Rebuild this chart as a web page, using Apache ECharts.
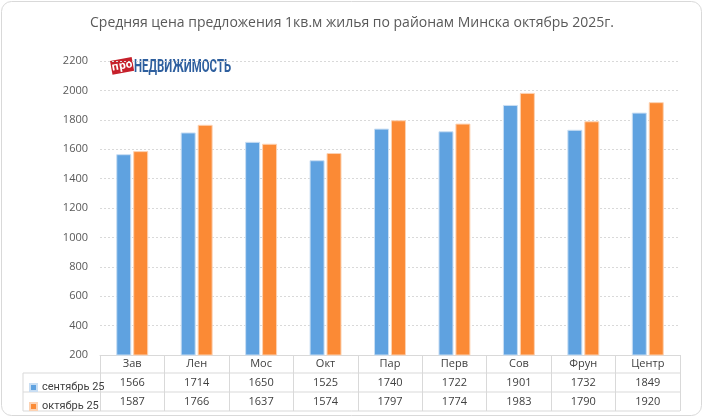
<!DOCTYPE html>
<html>
<head>
<meta charset="utf-8">
<script src="https://cdn.jsdelivr.net/npm/echarts@6/dist/echarts.min.js"></script>
<style>
  html, body { margin: 0; padding: 0; background: #fff; }
  #chart { width: 704px; height: 418px; }
</style>
</head>
<body>
<div id="chart"></div>
<script>
const categories = ['Зав', 'Лен', 'Мос', 'Окт', 'Пар', 'Перв', 'Сов', 'Фрун', 'Центр'];
const septValues = [1566, 1714, 1650, 1525, 1740, 1722, 1901, 1732, 1849];
const octValues = [1587, 1766, 1637, 1574, 1797, 1774, 1983, 1790, 1920];
const seriesNames = ['сентябрь 25', 'октябрь 25'];
const yMin = 200, yMax = 2200, yStep = 200;

const FONT = '"Open Sans", "DejaVu Sans", sans-serif';
const GRID_L = 100, GRID_R = 680, GRID_T = 61, GRID_B = 355;
const TABLE_L = 23;
const ROWS = [373, 392, 411];
const LINE = '#d9d9d9';

const initChart = function () {
  const myChart = echarts.init(document.getElementById('chart'));

  const tableLines = ROWS.map(function (y) {
    return {
      type: 'line',
      shape: { x1: TABLE_L, y1: y, x2: GRID_R, y2: y },
      style: { stroke: LINE, lineWidth: 1 }
    };
  });
  tableLines.push({
    type: 'line',
    shape: { x1: TABLE_L, y1: ROWS[0], x2: TABLE_L, y2: ROWS[2] },
    style: { stroke: LINE, lineWidth: 1 }
  });

  const option = {
    animation: false,
    backgroundColor: '#fff',
    textStyle: { fontFamily: FONT },
    title: {
      text: 'Средняя цена предложения 1кв.м жилья по районам Минска октябрь 2025г.',
      left: 'center',
      top: 11,
      textStyle: { fontFamily: FONT, fontSize: 14, fontWeight: 'normal', color: '#595959' }
    },
    legend: {
      orient: 'vertical',
      left: 24,
      top: 376,
      itemWidth: 7,
      itemHeight: 7,
      itemGap: 6,
      icon: 'rect',
      data: seriesNames,
      selectedMode: false,
      textStyle: { fontFamily: 'Roboto, sans-serif', fontSize: 11, color: '#404040', lineHeight: 13 }
    },
    grid: {
      left: GRID_L,
      right: 704 - GRID_R,
      top: GRID_T,
      bottom: 418 - GRID_B,
      containLabel: false
    },
    xAxis: {
      type: 'category',
      data: categories,
      axisLine: { show: true, lineStyle: { color: LINE, width: 1 } },
      axisTick: { show: true, length: 56, lineStyle: { color: LINE, width: 1 } },
      axisLabel: {
        interval: 0,
        margin: 0,
        formatter: function (value, idx) {
          return '{c|' + value + '}\n{v|' + septValues[idx] + '}\n{v|' + octValues[idx] + '}';
        },
        rich: {
          c: { fontFamily: FONT, fontSize: 11, color: '#404040', lineHeight: 18.7 },
          v: { fontFamily: FONT, fontSize: 11, color: '#404040', lineHeight: 18.7 }
        }
      }
    },
    yAxis: {
      type: 'value',
      min: yMin,
      max: yMax,
      interval: yStep,
      axisLine: { show: false },
      axisTick: { show: false },
      axisLabel: {
        margin: 12, fontFamily: FONT, fontSize: 11, color: '#595959',
        formatter: function (v) { return String(v); }
      },
      splitLine: { lineStyle: { color: LINE, type: [2, 2], width: 1 } }
    },
    series: [
      {
        name: seriesNames[0],
        type: 'bar',
        data: septValues,
        barWidth: 15,
        barGap: '13%',
        itemStyle: { color: '#5fa2e0', borderColor: '#c9def3', borderWidth: 1 }
      },
      {
        name: seriesNames[1],
        type: 'bar',
        data: octValues,
        barWidth: 15,
        itemStyle: { color: '#fb8a35', borderColor: '#fcd2b3', borderWidth: 1 }
      }
    ],
    graphic: [
      {
        type: 'rect',
        silent: true,
        shape: { x: 1.5, y: 1.5, width: 700, height: 414, r: 10 },
        style: { fill: 'none', stroke: LINE, lineWidth: 1 }
      }
    ].concat(tableLines).concat([
      {
        type: 'group',
        left: 110,
        top: 57,
        children: [
          {
            type: 'rect',
            x: 11, y: 8,
            rotation: 0.18,
            shape: { x: -11, y: -7, width: 22, height: 14 },
            style: { fill: '#c6202b' }
          },
          {
            type: 'text',
            x: 11, y: 8,
            rotation: 0.18,
            style: {
              text: 'про', fill: '#fff', fontFamily: FONT, fontWeight: 'bold', fontSize: 11,
              align: 'center', verticalAlign: 'middle'
            }
          },
          {
            type: 'text',
            x: 23, y: 9,
            scaleX: 0.6,
            style: {
              text: 'НЕДВИЖИМОСТЬ', fill: '#2e5f9e', fontFamily: '"Roboto", "DejaVu Sans", sans-serif',
              fontWeight: 'bold', fontSize: 19, verticalAlign: 'middle'
            }
          }
        ]
      }
    ])
  };

  myChart.setOption(option);
};

window.addEventListener('load', function () {
  initChart();
});
</script>
</body>
</html>
